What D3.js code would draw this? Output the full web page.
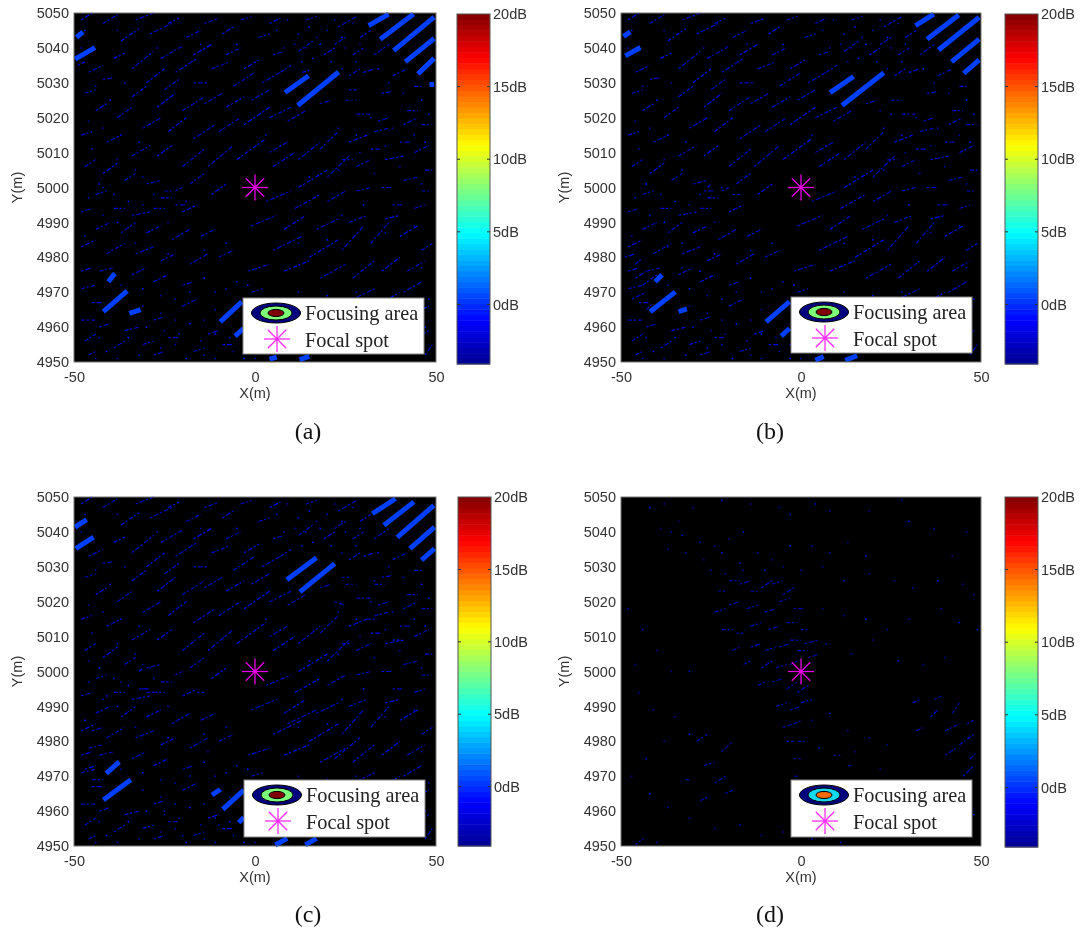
<!DOCTYPE html>
<html>
<head>
<meta charset="utf-8">
<script src="https://cdn.jsdelivr.net/npm/d3@7"></script>
<style>
  html, body { margin: 0; background: #fff; }
  svg { display: block; filter: blur(0.35px); }
  .tick-label { font: 14.5px "Liberation Sans", Arial, sans-serif; fill: #333; }
  .legend-label { font: 20.3px "Liberation Serif", "Times New Roman", serif; fill: #222; }
  .caption { font: 24px "Liberation Serif", "Times New Roman", serif; fill: #111; }
</style>
</head>
<body>
<svg id="chart" width="1080" height="933"></svg>
<script>
// x/y axis and colorbar ticks
const xTicks = [-50, 0, 50];
const yTicks = [4950, 4960, 4970, 4980, 4990, 5000, 5010, 5020, 5030, 5040, 5050];
const dbTicks = [0, 5, 10, 15, 20];
const dbRange = [-4.1, 20];
const jetStops = ['#00008f', '#0000ff', '#00ffff', '#ffff00', '#ff0000', '#800000'];
const jetPositions = [0, 0.125, 0.375, 0.625, 0.875, 1];

// strong returns, [x0, y0, x1, y1]
const boldA = [[-49.3,5043,-47.5,5044.6],[-49.7,5036.8,-44.2,5040.1],[31.4,5046.4,36.9,5049.7],[34.6,5042.5,43.8,5049.7],[38.3,5039.2,49.5,5048.8],[41.5,5036,49.5,5042.7],[45,5032.5,49.5,5037],[8.3,5027.2,14.8,5032],[11.8,5023.5,23.1,5033.1],[48.2,5029.5,49.5,5029.6],[-40.5,4973,-38.7,4975.4],[-41.9,4964.4,-35.3,4970.4],[-34.7,4963.9,-31.6,4965],[-9.6,4961.5,-3.6,4967.3],[-5.5,4957.4,-3.2,4959.6],[4,4950.8,6,4951.4],[12.3,4950.7,15,4951.6]];
const boldB = [[-49.3,5043.3,-47.4,5044.6],[-48.8,5037.7,-44.6,5040.1],[31.8,5046.4,36.9,5049.7],[35,5042.5,43.8,5049.4],[38.2,5039.4,49.5,5048.8],[41.8,5036,49.5,5042.5],[45.2,5032.7,49.5,5036.6],[8.1,5027.2,14.6,5031.8],[11.4,5023.5,23,5032.9],[-40.5,4973,-38.6,4975],[-41.9,4964.4,-34.9,4970.1],[-34,4964.4,-31.7,4965.2],[-9.7,4961.5,-3.2,4967.3],[-5.5,4957.4,-3.2,4959.6],[4,4950.5,6.3,4951.6],[12.3,4950.5,15.6,4951.8]];
const boldC = [[-49.7,5041.4,-46.5,5043.5],[-49.5,5035.2,-44.6,5038.5],[32.4,5045.2,38.8,5049.5],[35.6,5041.9,43.9,5048.6],[39.3,5038.4,49.4,5047.6],[42.8,5035.2,49.6,5041.4],[46,5031.9,49.6,5035.2],[8.8,5026.3,17,5032.6],[12.4,5022.8,22,5030.9],[-41.1,4970.8,-37.5,4974.1],[-41.9,4963.2,-34.3,4969],[-8.9,4960.5,-3.1,4966],[-4.5,4956.7,-3.1,4958.2],[-11.9,4964.6,-9.6,4966.2],[5.6,4950.3,8.9,4952.2],[13.9,4950.3,17,4952.2]];

// weak clutter shared by the first three images, [x, y, dx, dy]
const sceneStreaks = [
  [-48,5048,3,2],[-42,5047,4,2.5],[-33,5048,5,2],[-24,5047,3,1.5],[-14,5047,4,1.5],[-4,5048,3,1],[4,5047,3,1.5],[14,5048,3,1],[23,5046,5,3],
  [-37,5042,5,3.5],[-29,5044,6,3],[-19,5043,4,2],[-9,5044,3,2],[1,5043,3,1],[-46,5033,4,2],[-39,5037,3,1.5],[-34,5034,6,5],[-26,5037,6,3.5],
  [-17,5038,5,3],[-8,5038,4,2],[-42,5031,3,0.5],[-30,5030,5,4],[-22,5033,6,4],[-12,5034,5,2],[-3,5034,4,2.5],[-25,5028,4,3],[-17,5030,4,0],
  [-34,5026,4,3],[-14,5024,5,3],[-20,5022,6,4],[-27,5023,5,4],[-6,5029,6,4],[2,5030,5,3],[-8,5023,5,3],[-1,5025,5,3],[-47,5027,3,1],
  [-44,5022,3,2],[-38,5020,4,3],[-31,5017,5,3],[-24,5016,5,4],[-17,5014,6,4],[-10,5016,6,4],[-3,5018,7,5],[4,5020,6,3],[9,5019,5,3],
  [-48,5015,3,1],[-41,5013,4,2],[-34,5009,5,3],[-27,5009,4,3],[-20,5006,6,5],[-13,5006,7,6],[-5,5008,8,6],[4,5010,5,3],[-47,5006,3,2],
  [-42,5004,4,3],[-36,5002,3,2],[-30,5001,4,1],[-26,4997,3,0],[-22,4999,2,1],[-18,5001,4,3],[-12,4998,4,3],[-44,4998,3,1],[-48,4993,3,1],
  [-39,4994,3,0],[-34,4992,5,1],[-28,4994,3,0],[-20,4993,4,2],[-44,4988,4,2],[-37,4987,4,3],[-30,4987,4,2],[-23,4985,5,3],[-15,4986,4,2],
  [-48,4983,4,2],[-41,4981,5,3],[-33,4981,5,2],[-26,4979,4,2],[-18,4978,5,3],[-10,4980,4,2],[-48,4976,3,1],[-43,4976,4,1],[-34,4975,4,2],
  [-28,4973,4,2],[-20,4972,3,1],[-48,4971,4,1],[-45,4967,3,0],[-48,4962,4,0],[-43,4960,3,1],[-36,4959,4,1],[-28,4962,3,1],[-20,4966,4,2],
  [-13,4958,3,1],[-47,4956,3,2],[-39,4954,3,2],[-31,4955,3,1],[-24,4957,3,0],[-17,4953,3,1],[-9,4955,3,0],[-46,4952,2,1],[-28,4952,3,1],
  [5,5006,6,4],[12,5008,6,5],[18,5011,5,5],[26,5013,5,2],[33,5016,4,1],[41,5018,4,2],[12,5000,8,5],[20,5003,6,6],[28,5006,4,2],[36,5008,5,1],
  [44,5010,4,2],[3,4996,7,3],[11,4994,7,4],[20,4996,5,3],[28,4999,4,1],[35,5000,3,0],[41,5002,4,1],[-1,4989,7,3],[8,4988,6,4],[17,4988,6,3],
  [26,4990,5,2],[36,4991,4,1],[44,4994,3,1],[5,4982,8,4],[15,4980,8,5],[24,4982,6,7],[32,4984,5,6],[40,4986,5,3],[46,4982,3,2],[-2,4976,6,2],
  [8,4976,7,3],[18,4974,7,4],[27,4974,6,5],[35,4976,5,4],[42,4976,5,3],[27,4968,6,3],[35,4967,5,3],[41,4970,5,3],[-1,4970,3,1],[30,4963,4,2],
  [39,4961,5,3],[45,4957,3,2],[44,4964,4,2],[47,4952,2,3],[25,5025,3,0],[35,5027,3,0.5],[28,5021,4,0],[18,5024,3,1],[42,5022,3,0],[34,5019,3,1],
  [46,5018,3,0],[30,5033,3,1],[38,5032,4,2],[26,5032,3,2],[44,5029,2,0],[33,5038,4,3],[27,5038,3,2],[19,5038,3,2],[12,5039,4,3],[22,5041,3,2],
  [29,5043,3,2],[5,5038,3,1],[7,5033,3,2],[32,5011,3,0],[24,5008,3,0],[40,5013,3,0],[47,5005,2,0],[38,4995,3,0],[46,4999,2,0]
];
const sceneDots = [
  [-47,5045],[-38,5045],[-27,5040],[-15,5041],[-5,5041],[6,5045],[9,5048],[12,5044],[15,5046],[17,5043],[20,5045],[22,5048],[24,5043],[27,5047],[11,5041],[14,5040],[18,5041],[8,5040],[25,5040],[29,5041],[16,5037],[21,5036],[24,5034],[28,5036],[34,5034],[13,5036],[37,5030],[41,5027],[46,5025],[48,5021],
  [-48,5040],[-44,5029],[-40,5025],[-36,5030],[-46,5019],[-42,5017],[-37,5015],[-32,5013],[-45,5011],[-38,5008],[-43,5001],[-33,5005],[-46,4997],[-39,4998],[-35,4996],[-31,4995],[-28,4998],[-24,4990],[-38,4990],[-42,4992],[-47,4986],[-33,4984],[-24,4981],[-14,4982],[-8,4984],
  [-37,4972],[-31,4971],[-26,4969],[-22,4968],[-18,4970],[-14,4974],[-11,4970],[-8,4971],[-5,4973],[-2,4972],[-31,4966],[-26,4964],[-22,4962],[-18,4961],[-14,4962],[-11,4965],[-7,4964],[-30,4960],[-25,4959],[-21,4958],[-15,4956],[-11,4958],[-7,4957],[-3,4955],[-43,4957],[-35,4957],[-32,4952],[-26,4954],[-22,4955],[-19,4951],[-14,4952],[-11,4951],[-6,4953],[-3,4951],[0,4951],[-38,4951],[-44,4951],[-41,4953],
  [3,5015],[7,5012],[23,5017],[28,5015],[32,5020],[38,5017],[44,5015],[47,5013],[36,5012],[29,5010],[23,5005],[15,5003],[33,5004],[40,5006],[46,5001],[30,4995],[24,4992],[36,4987],[44,4989],[20,4985],[12,4984],[46,4977],[28,4970],[20,4969],[12,4970],[48,4968],[37,4963],[47,4960]
];

// things only one image has
const extraStreaksA = [[-49,5035,2,1],[-25,4999,2,0],[-22,4995,3,0],[13,5033,2,0.5],[26,5028,2,0]];
const extraDotsA = [[-31,5003],[-42,5000],[-19,4996]];
const extraStreaksB = [[-27,4999,3,0],[-26,5000,1,1],[-46,4974,3,2],[-44,4972,4,3],[-47,4968,4,2],[-43,4965,2,2],[-49,4980,3,1],[-46,4978,2,2],[-19,4998,2,0]];
const extraDotsB = [[-22,5000],[-37,4983],[-33,4977],[-28,4976],[22,5022],[25,5021]];
const extraStreaksC = [[-32,4995,3,0],[-30,4994,3,0],[-16,4994,2,0],[-32,5000,1,1],[-45,4983,3,1],[-46,4978,4,1],[-47,4972,3,1],[-45,4969,3,0],[24,5027,2,0],[33,5025,3,0],[22,5020,3,-1],[31,5015,3,0],[38,5009,2,0],[-11,4965,2,1],[9,4985,8,4],[22,4975,7,6]];
const extraDotsC = [[-29,5001],[-37,4997],[-31,5002],[-47,4986],[-13,4977],[33,5026],[-46,5003],[-41,4993],[-25,4960],[-20,4953],[-10,4956]];

// the last image is nearly clean
const sceneStreaksD = [
  [-46,4950.5,1.5,1],[-29,4980,3,2],[-22,4977,3,3],[-27,4973,3,1],[-24,4968,3,2],[-28,4963,2,1],[-21,4965,2,1],[-32,4969,1,0],
  [-23,5023,2,0],[-20,5026,3,0],[-17,5025,3,1],[-14,5023,3,0],[-11,5024,3,2],[-8,5025,3,1],[-5,5022,3,2],[-24,5017,3,1],[-20,5019,3,1],[-15,5018,3,1],[-10,5017,3,1],[-6,5020,3,1],[-2,5018,3,0],
  [-22,5012,3,0],[-18,5011,2,0],[-14,5013,3,1],[-9,5012,3,1],[-4,5014,3,0],[0,5012,2,0],[-3,5009,3,0],[1,5008,4,1],[-19,5006,2,1],[-14,5007,3,1],[-10,5006,3,1],[-6,5007,3,1],[-1,5006,3,0],[2,5004,3,1],
  [-16,5002,2,1],[-11,5001,3,2],[-7,5001,3,1],[-3,5002,2,1],[-12,4996,2,1],[-8,4997,3,1],[-4,4995,3,2],[-1,4994,3,2],[-7,4990,3,1],[-3,4989,3,1],[0,4991,3,1],[-5,4984,3,1],[-2,4985,2,1],[-4,4980,2,0],[-1,4980,2,0],[-2,4975,2,0],
  [31,4991,2,1],[37,4992,2,1],[42,4988,2,3],[36,4987,2,2],[40,4983,4,2],[46,4985,2,1],[44,4979,4,3],[40,4976,3,2],[47,4975,2,2],[45,4970,3,3],[32,4983,2,1],[9,4976,2,0],[13,4973,1,0],[7,4960,2,0],[-2,4970,1,0]
];
const sceneDotsD = [
  [-42,5047],[-38,5048],[-34,5043],[-30,5047],[-22,5049],[-14,5048],[-6,5047],[-3,5045],[4,5048],[8,5046],[19,5046],[28,5049],[30,5043],[37,5041],[42,5033],[48,5022],[49,5012],[46,5040],[-39,5041],[-36,5040],[-33,5039],[-28,5037],[-24,5036],[-20,5038],[-16,5040],[-37,5035],[-32,5034],[-27,5032],[-22,5034],[-17,5031],[-12,5034],[-8,5032],[-3,5036],[3,5036],[8,5034],[13,5037],[18,5033],[-25,5029],[-21,5028],[-16,5029],[-10,5029],[-5,5030],[0,5029],[6,5030],[12,5026],[19,5028],[26,5026],[31,5024],[38,5026],[45,5025],
  [6,5018],[12,5016],[18,5015],[24,5012],[30,5015],[39,5018],[44,5014],[7,5008],[14,5005],[20,5009],[27,5003],[34,5002],[40,5004],[-48,5018],[-44,5012],[-40,5006],[-46,5002],[-36,5000],[-31,5000],[-45,4994],[-41,4989],[-35,4987],[-31,4982],[-38,4980],[-43,4975],[-47,4970],[-42,4965],[-37,4961],[-31,4958],[-24,4955],[-17,4956],[-11,4953],[-5,4954],[3,4952],[11,4951],[-44,4952],[-40,4951],
  [3,4986],[8,4988],[13,4983],[19,4981],[24,4979],[5,4978],[15,4977],[22,4972],[27,4968],[16,4968],[31,4966],[38,4964],[45,4961],[48,4959]
];

// page layout of the four images
const panels = [
  {caption: '(a)', capX: 308, capY: 439, left: 74, right: 436, top: 13, bottom: 362, barLeft: 457, barRight: 490, barTop: 14, barBottom: 364, legend: [243, 298, 181, 56], inner: ['#7dff7a', '#800000'], tones: [-2, -2.9], bold: boldA, streaks: sceneStreaks.concat(extraStreaksA), dots: sceneDots.concat(extraDotsA)},
  {caption: '(b)', capX: 770, capY: 439, left: 621, right: 981, top: 13, bottom: 362, barLeft: 1005, barRight: 1038, barTop: 14, barBottom: 364, legend: [791, 297, 181, 56], inner: ['#7dff7a', '#800000'], tones: [-2, -2.9], bold: boldB, streaks: sceneStreaks.concat(extraStreaksB), dots: sceneDots.concat(extraDotsB)},
  {caption: '(c)', capX: 308, capY: 922, left: 74, right: 436, top: 497, bottom: 846, barLeft: 458, barRight: 491, barTop: 497, barBottom: 846, legend: [244, 780, 181, 57], inner: ['#7dff7a', '#800000'], tones: [-2, -2.9], bold: boldC, streaks: sceneStreaks.concat(extraStreaksC), dots: sceneDots.concat(extraDotsC)},
  {caption: '(d)', capX: 770, capY: 922, left: 621, right: 981, top: 497, bottom: 846, barLeft: 1005, barRight: 1038, barTop: 497, barBottom: 847, legend: [791, 780, 181, 57], inner: ['#12d8f0', '#f06a00'], tones: [-3, -3.6], bold: [], streaks: sceneStreaksD, dots: sceneDotsD}
];

const jet = d3.scaleLinear().domain(jetPositions).range(jetStops).clamp(true);
const dbFraction = d3.scaleLinear().domain(dbRange).range([0, 1]);
const dbColor = db => jet(dbFraction(db));

const svg = d3.select('#chart');

// eight-armed focal spot marker, centred on (0,0) of its group
function drawStar(g, color, width) {
  const r = 13, d = 9.2;
  [[-r, 0, r, 0], [0, -r, 0, r], [-d, -d, d, d], [-d, d, d, -d]].forEach(s => {
    g.append('line').attr('x1', s[0]).attr('y1', s[1]).attr('x2', s[2]).attr('y2', s[3])
      .attr('stroke', color).attr('stroke-width', width);
  });
  g.append('circle').attr('r', 1.6).attr('fill', color);
}

function drawPanel(p) {
  const x = d3.scaleLinear().domain([-50, 50]).range([p.left, p.right]);
  const y = d3.scaleLinear().domain([4950, 5050]).range([p.bottom, p.top]);
  const g = svg.append('g');

  g.append('rect').attr('x', p.left).attr('y', p.top)
    .attr('width', p.right - p.left).attr('height', p.bottom - p.top).attr('fill', '#000');

  // clutter, broken up so it reads as speckle rather than solid lines
  g.append('g').selectAll('line').data(p.streaks).join('line')
    .attr('x1', d => x(d[0])).attr('y1', d => y(d[1]))
    .attr('x2', d => x(d[0] + d[2])).attr('y2', d => y(d[1] + d[3]))
    .attr('stroke', (d, i) => dbColor(i % 3 === 0 ? p.tones[0] : p.tones[1]))
    .attr('stroke-width', 1.2)
    .attr('stroke-dasharray', (d, i) => i % 2 ? '4 1.5 2 2.5' : '2.5 2 5 1.5');

  g.append('g').selectAll('rect').data(p.dots).join('rect')
    .attr('x', d => x(d[0]) - 0.75).attr('y', d => y(d[1]) - 0.75)
    .attr('width', 1.5).attr('height', 1.5)
    .attr('fill', (d, i) => dbColor(i % 4 === 0 ? p.tones[0] + 1 : p.tones[1]));

  g.append('g').selectAll('line').data(p.bold).join('line')
    .attr('x1', d => x(d[0])).attr('y1', d => y(d[1]))
    .attr('x2', d => x(d[2])).attr('y2', d => y(d[3]))
    .attr('stroke', dbColor(0.4)).attr('stroke-width', 5);

  // axes
  const xAxis = d3.axisBottom(x).tickValues(xTicks).tickSize(0).tickPadding(10).tickFormat(d => String(d));
  const xG = g.append('g').attr('transform', `translate(0,${p.bottom})`).call(xAxis);
  const yAxis = d3.axisLeft(y).tickValues(yTicks).tickSize(0).tickPadding(5).tickFormat(d3.format('d'));
  const yG = g.append('g').attr('transform', `translate(${p.left},0)`).call(yAxis);
  [xG, yG].forEach(a => {
    a.select('.domain').remove();
    a.selectAll('text').attr('class', 'tick-label').attr('fill', null);
  });

  g.append('rect').attr('x', p.left).attr('y', p.top)
    .attr('width', p.right - p.left).attr('height', p.bottom - p.top)
    .attr('fill', 'none').attr('stroke', '#777');

  g.append('text').attr('class', 'tick-label').attr('text-anchor', 'middle')
    .attr('x', x(0)).attr('y', p.bottom + 36).text('X(m)');
  g.append('text').attr('class', 'tick-label').attr('text-anchor', 'middle')
    .attr('transform', `translate(${p.left - 52},${y(5000)}) rotate(-90)`).text('Y(m)');

  // focal spot
  drawStar(g.append('g').attr('transform', `translate(${x(0)},${y(5000)})`), '#e800e8', 1.3);

  // colorbar
  const bar = d3.scaleLinear().domain(dbRange).range([p.barBottom, p.barTop]);
  const levels = d3.range(64);
  const levelDb = d3.scaleLinear().domain([0, 64]).range(dbRange);
  g.append('g').selectAll('rect').data(levels).join('rect')
    .attr('x', p.barLeft).attr('width', p.barRight - p.barLeft)
    .attr('y', d => bar(levelDb(d + 1))).attr('height', d => bar(levelDb(d)) - bar(levelDb(d + 1)) + 0.5)
    .attr('fill', d => dbColor(levelDb(d + 0.5)));
  g.append('rect').attr('x', p.barLeft).attr('y', p.barTop)
    .attr('width', p.barRight - p.barLeft).attr('height', p.barBottom - p.barTop)
    .attr('fill', 'none').attr('stroke', '#555');
  const barAxis = d3.axisRight(bar).tickValues(dbTicks).tickSize(0).tickPadding(3).tickFormat(d => d + 'dB');
  const barG = g.append('g').attr('transform', `translate(${p.barRight},0)`).call(barAxis);
  barG.select('.domain').remove();
  barG.selectAll('text').attr('class', 'tick-label').attr('fill', null);
  g.append('g').selectAll('path').data(dbTicks.slice(0, 4)).join('path')
    .attr('d', d => `M${p.barLeft},${bar(d)}h3M${p.barRight},${bar(d)}h-3`)
    .attr('stroke', '#333');

  // legend box
  const L = p.legend;
  const lg = g.append('g').attr('transform', `translate(${L[0]},${L[1]})`);
  lg.append('rect').attr('width', L[2]).attr('height', L[3]).attr('fill', '#fff').attr('stroke', '#888');
  const sw = lg.append('g').attr('transform', 'translate(33,15)');
  [[24.5, 10, '#00007f'], [16, 7, p.inner[0]], [8, 3.6, p.inner[1]]].forEach(e => {
    sw.append('ellipse').attr('rx', e[0]).attr('ry', e[1]).attr('fill', e[2])
      .attr('stroke', '#000').attr('stroke-width', 1);
  });
  lg.append('text').attr('class', 'legend-label').attr('x', 62).attr('y', 22).text('Focusing area');
  lg.append('text').attr('class', 'legend-label').attr('x', 62).attr('y', 49).text('Focal spot');
  drawStar(lg.append('g').attr('transform', 'translate(34,41)'), '#ff2cff', 1.3);

  svg.append('text').attr('class', 'caption').attr('text-anchor', 'middle')
    .attr('x', p.capX).attr('y', p.capY).text(p.caption);
}

panels.forEach(drawPanel);
</script>
</body>
</html>
